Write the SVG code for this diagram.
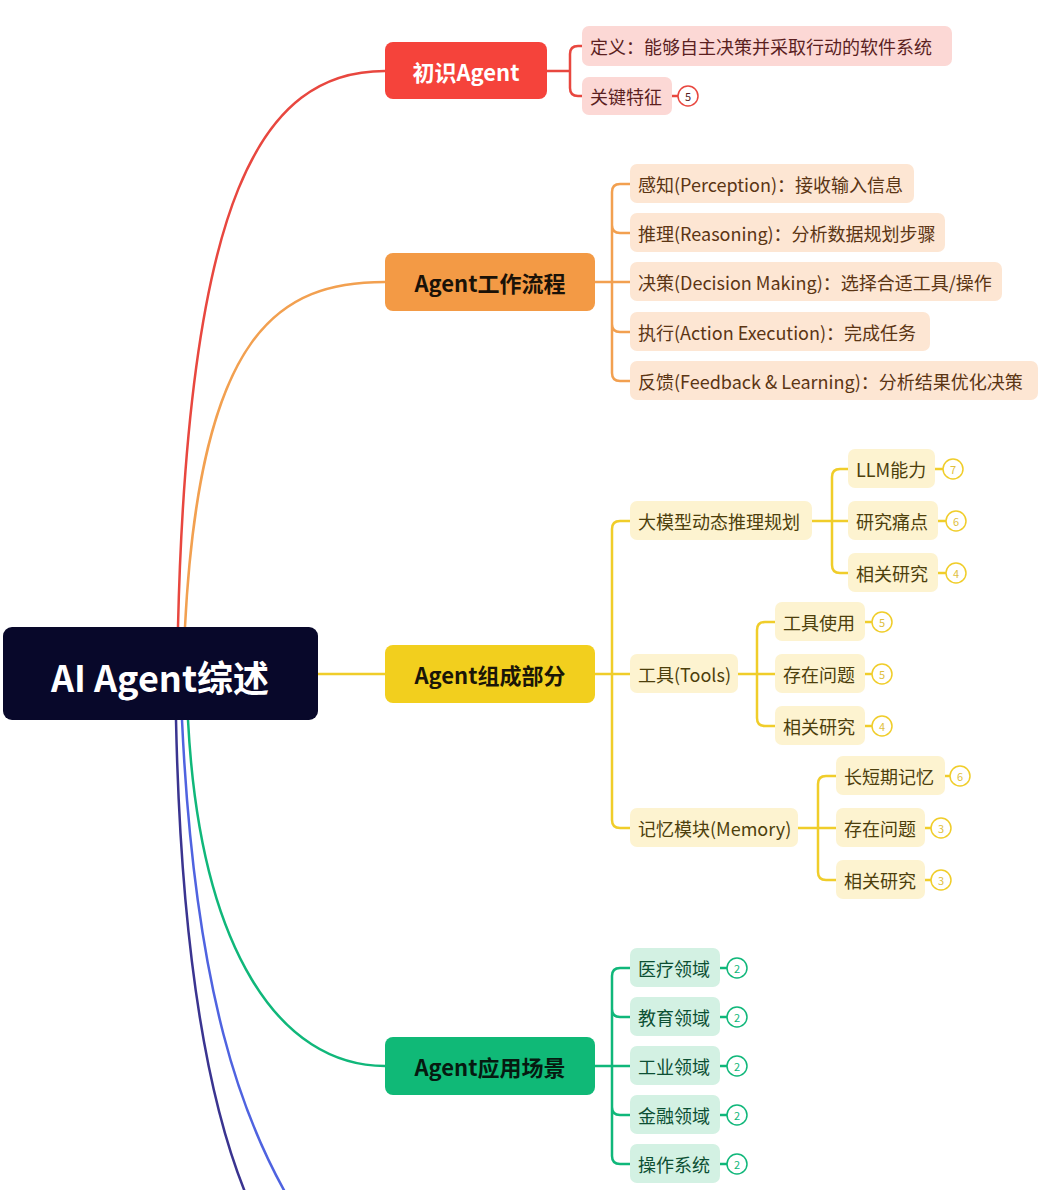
<svg xmlns="http://www.w3.org/2000/svg" width="1045" height="1190" viewBox="0 0 1045 1190">
<style>
text{font-family:"Noto Sans CJK SC","Noto Sans",sans-serif;dominant-baseline:central}
.m{font-size:22px;font-weight:600;text-anchor:middle}
.c{fill:none;stroke-width:2.5;stroke-linecap:round}
.r{stroke:#e8473f}.o{stroke:#f2a050}.y{stroke:#f0cd2a}.g{stroke:#10b77a}
.t{font-size:18px}
.rt{fill:#5b1f1f}.ot{fill:#5b3514}.yt{fill:#4d3f0c}.gt{fill:#0c4f33}
.rb{fill:#fcd8d5}.ob{fill:#fde6d3}.yb{fill:#fdf3d0}.gb{fill:#d3f1e3}
.bd{fill:#fff;stroke-width:1.5}
.bn{font-size:11px;text-anchor:middle}
</style>
<g id="connectors">
<path class="c r" d="M178,627 C188,200 260,71 385,71"/>
<path class="c o" d="M185,627 C200,330 280,282 385,282"/>
<path class="c y" d="M318,674 H385"/>
<path class="c g" d="M188,720 C200,950 280,1066 385,1066"/>
<path class="c" stroke="#4f63e0" d="M182,720 C195,1000 245,1120 285,1192"/>
<path class="c" stroke="#3a3490" d="M176,720 C182,1000 220,1130 245,1192"/>
<path class="c r" d="M547,71 H570 M570,54 V88 M570,54 Q570,46 578,46 H582 M570,88 Q570,96 578,96 H582 M672,96 H678"/>
<path class="c o" d="M595,282 H630 M612,192 V373 M612,192 Q612,184 620,184 H630 M612,225 Q612,233 620,233 H630 M612,324 Q612,332 620,332 H630 M612,373 Q612,381 620,381 H630"/>
<path class="c y" d="M595,674 H630 M612,529 V820 M612,529 Q612,521 620,521 H630 M612,820 Q612,828 620,828 H630"/>
<path class="c y" d="M812,521 H848 M832,477 V565 M832,477 Q832,469 840,469 H848 M832,565 Q832,573 840,573 H848"/>
<path class="c y" d="M738,674 H775 M757,630 V718 M757,630 Q757,622 765,622 H775 M757,718 Q757,726 765,726 H775"/>
<path class="c y" d="M798,828 H836 M818,784 V872 M818,784 Q818,776 826,776 H836 M818,872 Q818,880 826,880 H836"/>
<path class="c y" d="M935,469 H942 M938,521 H945 M938,573 H945 M865,622 H871 M865,674 H871 M865,726 H871 M945,776 H949 M925,828 H931 M925,880 H931"/>
<path class="c g" d="M595,1066 H630 M612,976 V1156 M612,976 Q612,968 620,968 H630 M612,1009 Q612,1017 620,1017 H630 M612,1107 Q612,1115 620,1115 H630 M612,1156 Q612,1164 620,1164 H630 M720,968 H727 M720,1017 H727 M720,1066 H727 M720,1115 H727 M720,1164 H727"/>
</g>
<g id="root"><rect x="3" y="627" width="315" height="93" rx="9" fill="#08082a"/><text x="160" y="676" font-size="36" font-weight="600" fill="#fff" text-anchor="middle">AI Agent综述</text></g>
<g id="b1"><rect x="385" y="42" width="162" height="57" rx="8" fill="#f5433b"/><text class="m" x="466" y="71" fill="#fff" font-weight="400">初识Agent</text></g>
<g id="b2"><rect x="385" y="253" width="210" height="58" rx="8" fill="#f39a45"/><text class="m" x="490" y="282" fill="#1a1208">Agent工作流程</text></g>
<g id="b3"><rect x="385" y="645" width="210" height="58" rx="8" fill="#f2cf1e"/><text class="m" x="490" y="674" fill="#1a1608">Agent组成部分</text></g>
<g id="b4"><rect x="385" y="1037" width="210" height="58" rx="8" fill="#10b977"/><text class="m" x="490" y="1066" fill="#061a10">Agent应用场景</text></g>
<g id="r1"><rect class="rb" x="582" y="26" width="370" height="40" rx="7"/><text class="t rt" x="590" y="46">定义：能够自主决策并采取行动的软件系统</text></g>
<g id="r2"><rect class="rb" x="582" y="77" width="90" height="38" rx="7"/><text class="t rt" x="590" y="96">关键特征</text><circle class="bd r" cx="688" cy="96" r="10"/><text class="bn rt" x="688" y="96" fill="#e8473f">5</text></g>
<g id="o1"><rect class="ob" x="630" y="164" width="284" height="39" rx="7"/><text class="t ot" x="638" y="184">感知(Perception)：接收输入信息</text></g>
<g id="o2"><rect class="ob" x="630" y="213" width="315" height="39" rx="7"/><text class="t ot" x="638" y="233">推理(Reasoning)：分析数据规划步骤</text></g>
<g id="o3"><rect class="ob" x="630" y="262" width="372" height="39" rx="7"/><text class="t ot" x="638" y="282">决策(Decision Making)：选择合适工具/操作</text></g>
<g id="o4"><rect class="ob" x="630" y="312" width="300" height="39" rx="7"/><text class="t ot" x="638" y="332">执行(Action Execution)：完成任务</text></g>
<g id="o5"><rect class="ob" x="630" y="361" width="408" height="39" rx="7"/><text class="t ot" x="638" y="381">反馈(Feedback &amp; Learning)：分析结果优化决策</text></g>
<g id="y1"><rect class="yb" x="630" y="501" width="182" height="39" rx="7"/><text class="t yt" x="638" y="521">大模型动态推理规划</text></g>
<g id="y2"><rect class="yb" x="630" y="654" width="108" height="39" rx="7"/><text class="t yt" x="638" y="674">工具(Tools)</text></g>
<g id="y3"><rect class="yb" x="630" y="808" width="168" height="39" rx="7"/><text class="t yt" x="638" y="828">记忆模块(Memory)</text></g>
<g id="y11"><rect class="yb" x="848" y="449" width="87" height="39" rx="7"/><text class="t yt" x="856" y="469">LLM能力</text><circle class="bd y" cx="953" cy="469" r="10"/><text class="bn" x="953" y="469" fill="#e0c040">7</text></g>
<g id="y12"><rect class="yb" x="848" y="501" width="90" height="39" rx="7"/><text class="t yt" x="856" y="521">研究痛点</text><circle class="bd y" cx="956" cy="521" r="10"/><text class="bn" x="956" y="521" fill="#e0c040">6</text></g>
<g id="y13"><rect class="yb" x="848" y="553" width="90" height="39" rx="7"/><text class="t yt" x="856" y="573">相关研究</text><circle class="bd y" cx="956" cy="573" r="10"/><text class="bn" x="956" y="573" fill="#e0c040">4</text></g>
<g id="y21"><rect class="yb" x="775" y="602" width="90" height="39" rx="7"/><text class="t yt" x="783" y="622">工具使用</text><circle class="bd y" cx="882" cy="622" r="10"/><text class="bn" x="882" y="622" fill="#e0c040">5</text></g>
<g id="y22"><rect class="yb" x="775" y="654" width="90" height="39" rx="7"/><text class="t yt" x="783" y="674">存在问题</text><circle class="bd y" cx="882" cy="674" r="10"/><text class="bn" x="882" y="674" fill="#e0c040">5</text></g>
<g id="y23"><rect class="yb" x="775" y="706" width="90" height="39" rx="7"/><text class="t yt" x="783" y="726">相关研究</text><circle class="bd y" cx="882" cy="726" r="10"/><text class="bn" x="882" y="726" fill="#e0c040">4</text></g>
<g id="y31"><rect class="yb" x="836" y="756" width="109" height="39" rx="7"/><text class="t yt" x="844" y="776">长短期记忆</text><circle class="bd y" cx="960" cy="776" r="10"/><text class="bn" x="960" y="776" fill="#e0c040">6</text></g>
<g id="y32"><rect class="yb" x="836" y="808" width="89" height="39" rx="7"/><text class="t yt" x="844" y="828">存在问题</text><circle class="bd y" cx="941" cy="828" r="10"/><text class="bn" x="941" y="828" fill="#e0c040">3</text></g>
<g id="y33"><rect class="yb" x="836" y="860" width="89" height="39" rx="7"/><text class="t yt" x="844" y="880">相关研究</text><circle class="bd y" cx="941" cy="880" r="10"/><text class="bn" x="941" y="880" fill="#e0c040">3</text></g>
<g id="g1"><rect class="gb" x="630" y="948" width="90" height="39" rx="7"/><text class="t gt" x="638" y="968">医疗领域</text><circle class="bd g" cx="737" cy="968" r="10"/><text class="bn" x="737" y="968" fill="#10b77a">2</text></g>
<g id="g2"><rect class="gb" x="630" y="997" width="90" height="39" rx="7"/><text class="t gt" x="638" y="1017">教育领域</text><circle class="bd g" cx="737" cy="1017" r="10"/><text class="bn" x="737" y="1017" fill="#10b77a">2</text></g>
<g id="g3"><rect class="gb" x="630" y="1046" width="90" height="39" rx="7"/><text class="t gt" x="638" y="1066">工业领域</text><circle class="bd g" cx="737" cy="1066" r="10"/><text class="bn" x="737" y="1066" fill="#10b77a">2</text></g>
<g id="g4"><rect class="gb" x="630" y="1095" width="90" height="39" rx="7"/><text class="t gt" x="638" y="1115">金融领域</text><circle class="bd g" cx="737" cy="1115" r="10"/><text class="bn" x="737" y="1115" fill="#10b77a">2</text></g>
<g id="g5"><rect class="gb" x="630" y="1144" width="90" height="39" rx="7"/><text class="t gt" x="638" y="1164">操作系统</text><circle class="bd g" cx="737" cy="1164" r="10"/><text class="bn" x="737" y="1164" fill="#10b77a">2</text></g>
</svg>
